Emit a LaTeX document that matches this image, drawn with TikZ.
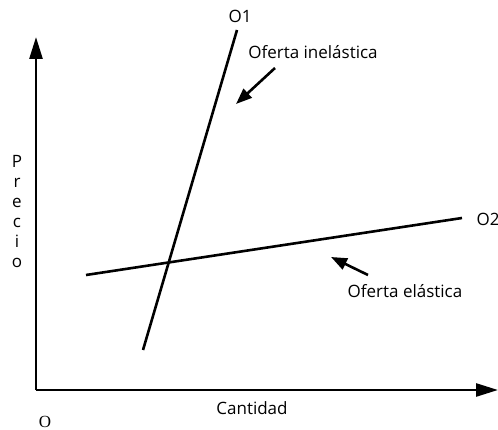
\documentclass[tikz,border=0pt]{standalone}
\usepackage{fontspec}
\setmainfont{Open Sans}
\newfontfamily\serifo{Liberation Serif}
\usetikzlibrary{arrows.meta}
\begin{document}
\begin{tikzpicture}[x=1pt,y=-1pt,
  axis/.style={line width=2.6pt,-{Triangle[length=22pt,width=13pt]}},
  curve/.style={line width=2.6pt},
  pointer/.style={line width=2.6pt,-{Triangle[length=16pt,width=12pt]}},
  lbl/.style={inner sep=0pt,font=\fontsize{17}{20}\selectfont}]
\useasboundingbox (0,0) rectangle (498,430);
\coordinate (orig) at (36,390);
\coordinate (ytop) at (36,37);
\coordinate (xend) at (498,390);
\draw[axis] (orig) -- (ytop);
\draw[axis] (orig) -- (xend);
\coordinate (o1a) at (143,350);
\coordinate (o1b) at (237,30);
\coordinate (o2a) at (86,275);
\coordinate (o2b) at (462,218);
\draw[curve] (o1a) -- (o1b);
\draw[curve] (o2a) -- (o2b);
\node[lbl] (O1) at (240,16) {O1};
\node[lbl] (O2) at (488,219) {O2};
\node[lbl] (inel) at (313,52) {Oferta inelástica};
\node[lbl] (elas) at (405,291) {Oferta elástica};
\coordinate (inelt) at (275,68);
\coordinate (inelh) at (236,104);
\draw[pointer] (inelt) -- (inelh);
\coordinate (elast) at (368,275);
\coordinate (elash) at (331,257);
\draw[pointer] (elast) -- (elash);
\node[lbl] (cant) at (252,408) {Cantidad};
\node[lbl,font=\serifo\fontsize{17}{20}\selectfont] (O) at (45,422) {O};
\node[lbl,align=center] (precio) at (17,212) {P\\r\\e\\c\\i\\o};
\end{tikzpicture}
\end{document}
